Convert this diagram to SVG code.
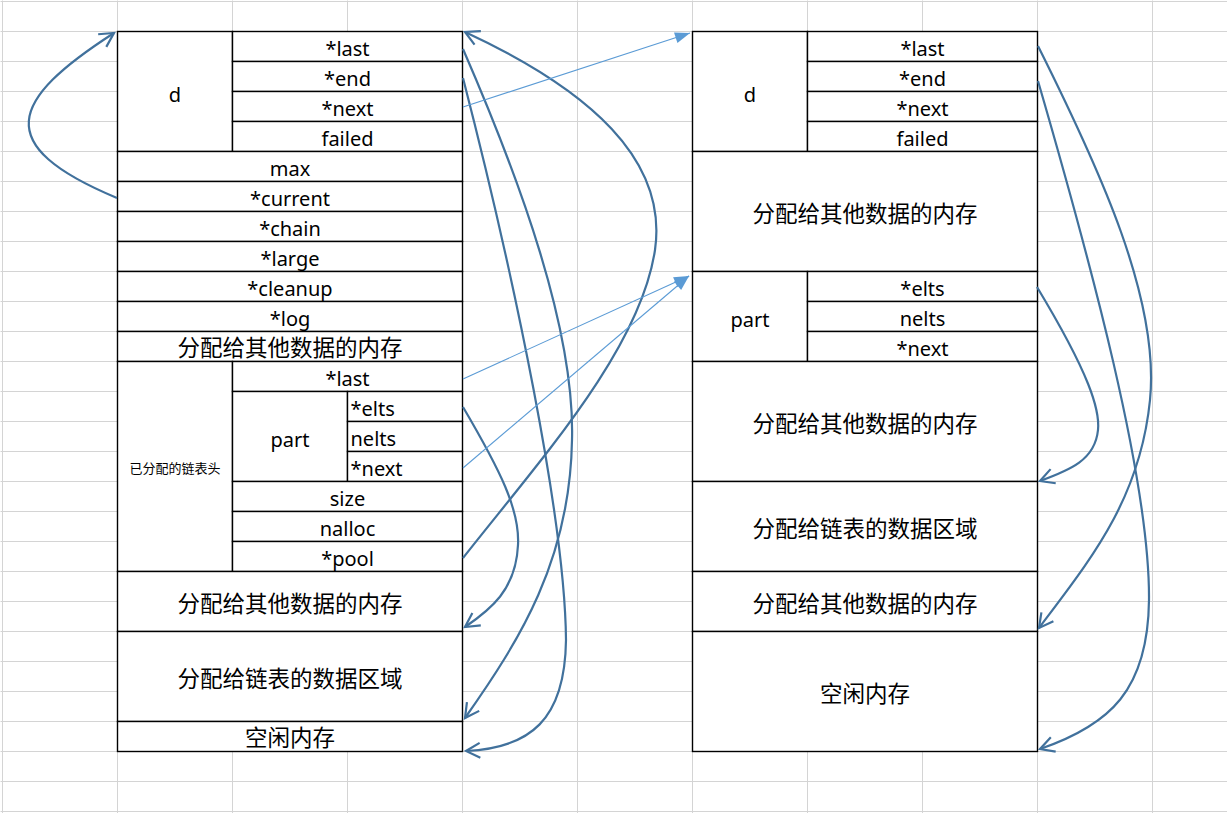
<svg xmlns="http://www.w3.org/2000/svg" width="1227" height="813" viewBox="0 0 1227 813">
<style>
.cell{fill:#fff;stroke:#000;stroke-width:1.4}
.t{font-family:"Noto Sans","Noto Sans CJK SC",sans-serif;font-size:20px;fill:#000;text-anchor:middle}
.tl{font-family:"Noto Sans","Noto Sans CJK SC",sans-serif;font-size:20px;fill:#000}
.c{font-family:"Noto Sans CJK SC",sans-serif;font-size:22.5px;fill:#000;text-anchor:middle}
.s{font-family:"Noto Sans CJK SC",sans-serif;font-size:13px;fill:#000;text-anchor:middle}
.grid{stroke:#d4d4d4;stroke-width:1;fill:none}
.dk{fill:none;stroke:#41719c;stroke-width:2.2}
.lt{fill:none;stroke:#5b9bd5;stroke-width:1.1}
</style>
<defs>
<marker id="open" viewBox="-17 -10 19 20" refX="0" refY="0" markerWidth="19" markerHeight="20" markerUnits="userSpaceOnUse" orient="auto" overflow="visible">
<path d="M-14,-7.5 L0,0 L-14,7.5" fill="none" stroke="#41719c" stroke-width="2.2"/>
</marker>
<marker id="tri" viewBox="-16 -8 17 16" refX="0" refY="0" markerWidth="17" markerHeight="16" markerUnits="userSpaceOnUse" orient="auto" overflow="visible">
<path d="M-15,-5.5 L0,0 L-15,5.5 Z" fill="#5b9bd5"/>
</marker>
</defs>
<rect width="1227" height="813" fill="#fff"/>
<g id="grid" transform="translate(0.5,0.5)">
<path class="grid" d="M2,0V813M117,0V813M232,0V813M347,0V813M462,0V813M577,0V813M692,0V813M807,0V813M922,0V813M1037,0V813M1152,0V813
M0,1H1227M0,31H1227M0,61H1227M0,91H1227M0,121H1227M0,151H1227M0,181H1227M0,211H1227M0,241H1227M0,271H1227M0,301H1227M0,331H1227M0,361H1227M0,391H1227M0,421H1227M0,451H1227M0,481H1227M0,511H1227M0,541H1227M0,571H1227M0,601H1227M0,631H1227M0,661H1227M0,691H1227M0,721H1227M0,751H1227M0,781H1227M0,811H1227"/>
</g>
<g id="left-table" transform="translate(0.5,0.5)">
<g id="L_d"><rect class="cell" x="117" y="31" width="115" height="120"/><text class="t" x="174.5" y="101">d</text></g>
<g id="L_last"><rect class="cell" x="232" y="31" width="230" height="30"/><text class="t" x="347" y="55">*last</text></g>
<g id="L_end"><rect class="cell" x="232" y="61" width="230" height="30"/><text class="t" x="347" y="85">*end</text></g>
<g id="L_next"><rect class="cell" x="232" y="91" width="230" height="30"/><text class="t" x="347" y="115">*next</text></g>
<g id="L_failed"><rect class="cell" x="232" y="121" width="230" height="30"/><text class="t" x="347" y="145">failed</text></g>
<g id="L_max"><rect class="cell" x="117" y="151" width="345" height="30"/><text class="t" x="289.5" y="175">max</text></g>
<g id="L_current"><rect class="cell" x="117" y="181" width="345" height="30"/><text class="t" x="289.5" y="205">*current</text></g>
<g id="L_chain"><rect class="cell" x="117" y="211" width="345" height="30"/><text class="t" x="289.5" y="235">*chain</text></g>
<g id="L_large"><rect class="cell" x="117" y="241" width="345" height="30"/><text class="t" x="289.5" y="265">*large</text></g>
<g id="L_cleanup"><rect class="cell" x="117" y="271" width="345" height="30"/><text class="t" x="289.5" y="295">*cleanup</text></g>
<g id="L_log"><rect class="cell" x="117" y="301" width="345" height="30"/><text class="t" x="289.5" y="325">*log</text></g>
<g id="L_other1"><rect class="cell" x="117" y="331" width="345" height="30"/><text class="c" x="289.5" y="355">分配给其他数据的内存</text></g>
<g id="L_head"><rect class="cell" x="117" y="361" width="115" height="210"/><text class="s" x="174.5" y="472">已分配的链表头</text></g>
<g id="L_list_last"><rect class="cell" x="232" y="361" width="230" height="30"/><text class="t" x="347" y="385">*last</text></g>
<g id="L_part"><rect class="cell" x="232" y="391" width="115" height="90"/><text class="t" x="289.5" y="446">part</text></g>
<g id="L_elts"><rect class="cell" x="347" y="391" width="115" height="30"/><text class="tl" x="350" y="415">*elts</text></g>
<g id="L_nelts"><rect class="cell" x="347" y="421" width="115" height="30"/><text class="tl" x="350" y="445">nelts</text></g>
<g id="L_part_next"><rect class="cell" x="347" y="451" width="115" height="30"/><text class="tl" x="350" y="475">*next</text></g>
<g id="L_size"><rect class="cell" x="232" y="481" width="230" height="30"/><text class="t" x="347" y="505">size</text></g>
<g id="L_nalloc"><rect class="cell" x="232" y="511" width="230" height="30"/><text class="t" x="347" y="535">nalloc</text></g>
<g id="L_pool"><rect class="cell" x="232" y="541" width="230" height="30"/><text class="t" x="347" y="565">*pool</text></g>
<g id="L_other2"><rect class="cell" x="117" y="571" width="345" height="60"/><text class="c" x="289.5" y="611">分配给其他数据的内存</text></g>
<g id="L_data"><rect class="cell" x="117" y="631" width="345" height="90"/><text class="c" x="289.5" y="686">分配给链表的数据区域</text></g>
<g id="L_free"><rect class="cell" x="117" y="721" width="345" height="30"/><text class="c" x="289.5" y="745">空闲内存</text></g>
</g>
<g id="right-table" transform="translate(0.5,0.5)">
<g id="R_d"><rect class="cell" x="692" y="31" width="115" height="120"/><text class="t" x="749.5" y="101">d</text></g>
<g id="R_last"><rect class="cell" x="807" y="31" width="230" height="30"/><text class="t" x="922" y="55">*last</text></g>
<g id="R_end"><rect class="cell" x="807" y="61" width="230" height="30"/><text class="t" x="922" y="85">*end</text></g>
<g id="R_next"><rect class="cell" x="807" y="91" width="230" height="30"/><text class="t" x="922" y="115">*next</text></g>
<g id="R_failed"><rect class="cell" x="807" y="121" width="230" height="30"/><text class="t" x="922" y="145">failed</text></g>
<g id="R_other1"><rect class="cell" x="692" y="151" width="345" height="120"/><text class="c" x="864.5" y="221">分配给其他数据的内存</text></g>
<g id="R_part"><rect class="cell" x="692" y="271" width="115" height="90"/><text class="t" x="749.5" y="326">part</text></g>
<g id="R_elts"><rect class="cell" x="807" y="271" width="230" height="30"/><text class="t" x="922" y="295">*elts</text></g>
<g id="R_nelts"><rect class="cell" x="807" y="301" width="230" height="30"/><text class="t" x="922" y="325">nelts</text></g>
<g id="R_part_next"><rect class="cell" x="807" y="331" width="230" height="30"/><text class="t" x="922" y="355">*next</text></g>
<g id="R_other2"><rect class="cell" x="692" y="361" width="345" height="120"/><text class="c" x="864.5" y="431">分配给其他数据的内存</text></g>
<g id="R_data"><rect class="cell" x="692" y="481" width="345" height="90"/><text class="c" x="864.5" y="536">分配给链表的数据区域</text></g>
<g id="R_other3"><rect class="cell" x="692" y="571" width="345" height="60"/><text class="c" x="864.5" y="611">分配给其他数据的内存</text></g>
<g id="R_free"><rect class="cell" x="692" y="631" width="345" height="120"/><text class="c" x="864.5" y="701">空闲内存</text></g>
</g>
<g id="connectors">
<path class="dk" d="M117,198 C-10,145 10,100 114,33" marker-end="url(#open)"/>
<path class="dk" d="M463,558 C540,460 640,350 655,250 C668,160 590,90 465,32" marker-end="url(#open)"/>
<path class="dk" d="M463,49 C520,180 575,330 572,440 C570,560 520,640 465,718" marker-end="url(#open)"/>
<path class="dk" d="M463,78 C515,280 565,520 566,640 C565,720 530,748 466,751" marker-end="url(#open)"/>
<path class="dk" d="M463,407 C500,470 520,510 518,545 C516,590 490,610 465,627" marker-end="url(#open)"/>
<path class="lt" d="M463,107 L690,33" marker-end="url(#tri)"/>
<path class="lt" d="M463,379 L689,276" marker-end="url(#tri)"/>
<path class="lt" d="M463,468 L689,276" marker-end="url(#tri)"/>
<path class="dk" d="M1038,46 C1100,170 1160,300 1150,400 C1140,500 1090,560 1039,628" marker-end="url(#open)"/>
<path class="dk" d="M1038,81 C1090,260 1150,480 1149,600 C1148,690 1110,725 1040,749" marker-end="url(#open)"/>
<path class="dk" d="M1037,287 C1090,375 1100,410 1098,430 C1095,460 1070,470 1040,481" marker-end="url(#open)"/>
</g>
</svg>
